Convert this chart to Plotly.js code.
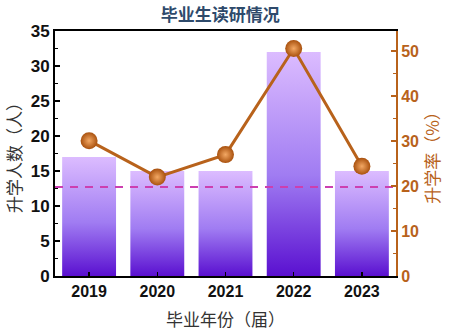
<!DOCTYPE html>
<html><head><meta charset="utf-8">
<script src="https://cdn.plot.ly/plotly-3.0.1.min.js"></script>
<style>html,body{margin:0;padding:0;background:#fff}#c{width:457px;height:331px}</style>
</head><body><div id="c"></div>
<script>
const years = ['2019','2020','2021','2022','2023'];
const students = [17, 15, 15, 32, 15];
const rate = [30.1, 22.0, 27.0, 50.6, 24.4];
const refRate = 19.8;

const F = 'Liberation Sans, Arial, Noto Sans CJK SC, sans-serif';
const CJK = 'Noto Sans CJK SC, sans-serif';
const brown = '#b8621b';
const barW = 0.79;
const xs = years.map((_, i) => i);

const traces = [];
students.forEach((v, i) => {
  traces.push({
    type: 'scatter', mode: 'none', fill: 'toself', hoverinfo: 'skip', showlegend: false,
    x: [i - barW/2, i + barW/2, i + barW/2, i - barW/2, i - barW/2],
    y: [0, 0, v, v, 0],
    fillgradient: {type: 'vertical', start: 0, stop: v,
      colorscale: [[0, '#5a10d0'], [0.45, '#a07cf2'], [1, '#dcbcff']]}
  });
});
traces.push({
  type: 'scatter', mode: 'lines', x: [-0.5, 4.5], y: [refRate, refRate], yaxis: 'y2',
  line: {color: '#cc3fb0', width: 2, dash: '8px,7px'}, showlegend: false, hoverinfo: 'skip'
});
traces.push({
  type: 'scatter', mode: 'lines+markers', x: xs, y: rate, yaxis: 'y2', showlegend: false,
  line: {color: brown, width: 3},
  marker: {size: 17, color: '#a9510e', line: {width: 0},
    gradient: {type: 'radial', color: '#f3a864'}}
});

const layout = {
  width: 457, height: 331,
  margin: {l: 55, r: 61, t: 31, b: 55},
  paper_bgcolor: '#fff', plot_bgcolor: '#fff',
  title: {text: '毕业生读研情况', x: 0.482, xanchor: 'center', y: 0.955, yanchor: 'middle',
    font: {family: CJK, size: 17, color: '#2e4a6b', weight: 'bold'}},
  xaxis: {range: [-0.5, 4.5], tickvals: xs, ticktext: years, showgrid: false, zeroline: false,
    showline: true, linecolor: '#000', linewidth: 2, mirror: true,
    ticks: 'inside', ticklen: 4, tickwidth: 1.5, tickcolor: '#000',
    tickfont: {family: F, size: 16, color: '#111', weight: 'bold'},
    title: {text: '毕业年份（届）', font: {family: CJK, size: 17, color: '#333'}, standoff: 16}},
  yaxis: {range: [0, 35], dtick: 5, showgrid: false, zeroline: false,
    showline: true, linecolor: '#000', linewidth: 2,
    ticks: 'inside', ticklen: 5, tickwidth: 1.5, tickcolor: '#000',
    minor: {dtick: 2.5, ticks: 'inside', ticklen: 3, tickcolor: '#000'},
    tickfont: {family: F, size: 17, color: '#111', weight: 'bold'},
    title: {text: '升学人数（人）', font: {family: CJK, size: 17, color: '#333'}, standoff: 5}},
  yaxis2: {overlaying: 'y', side: 'right', range: [0, 54.5], dtick: 10, showgrid: false, zeroline: false,
    showline: true, linecolor: brown, linewidth: 2,
    ticks: 'inside', ticklen: 5, tickwidth: 1.5, tickcolor: brown,
    minor: {dtick: 5, ticks: 'inside', ticklen: 3, tickcolor: brown},
    tickfont: {family: F, size: 16, color: brown, weight: 'bold'},
    title: {text: '升学率（%）', font: {family: CJK, size: 17, color: brown}, standoff: 8}}
};
Plotly.newPlot('c', traces, layout, {displayModeBar: false, staticPlot: true});
</script></body></html>
